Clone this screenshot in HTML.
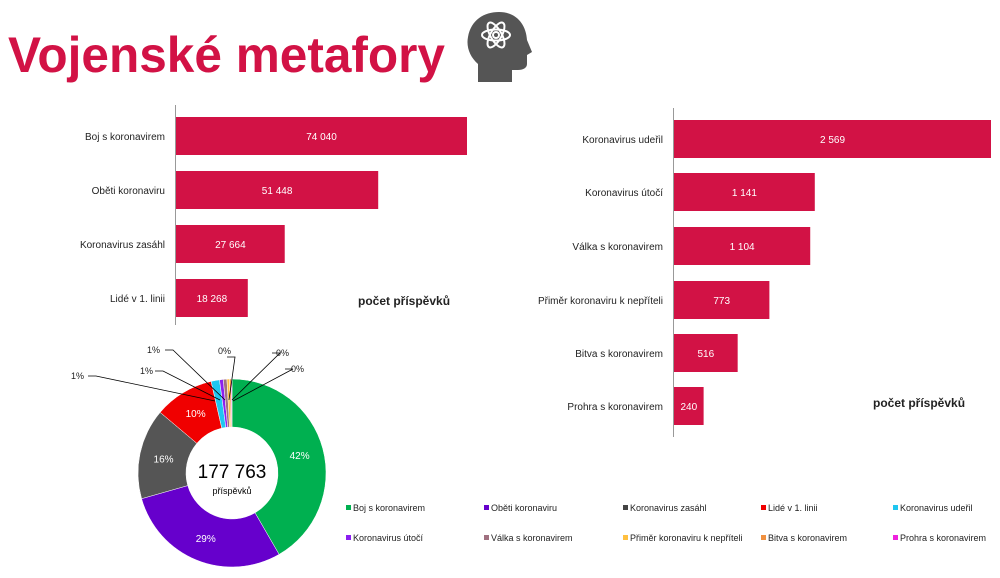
<!DOCTYPE html>
<html><head><meta charset="utf-8"><style>
body{margin:0;background:#fff;width:1000px;height:578px;overflow:hidden;font-family:"Liberation Sans",sans-serif}
svg{display:block}
</style></head><body>
<svg id="s" width="1000" height="578" xmlns="http://www.w3.org/2000/svg" font-family="Liberation Sans, sans-serif">
<text x="8" y="72" font-size="50" font-weight="bold" fill="#d21245" textLength="437" lengthAdjust="spacingAndGlyphs">Vojenské metafory</text>
<g fill="#555">
<path d="M478 82 L478 64 C470 57 466 47 468 37 C471 20 484 12 499 12 C516 12 526 24 527 40 L532 52 L527 55 L527 64 C527 68 523 70 518 70 L512 70 L512 82 Z"/>
</g>
<g fill="none" stroke="#fff" stroke-width="2">
<ellipse cx="496" cy="35" rx="14" ry="5.5"/>
<ellipse cx="496" cy="35" rx="14" ry="5.5" transform="rotate(60 496 35)"/>
<ellipse cx="496" cy="35" rx="14" ry="5.5" transform="rotate(-60 496 35)"/>
<circle cx="496" cy="35" r="3"/>
</g>
<g id="g"></g>
<text x="358" y="305" font-size="12" font-weight="bold" fill="#222">počet příspěvků</text>
<text x="873" y="407" font-size="12" font-weight="bold" fill="#222">počet příspěvků</text>
<text x="232" y="478" font-size="19" text-anchor="middle" fill="#000">177 763</text>
<text x="232" y="494" font-size="9" text-anchor="middle" fill="#000">příspěvků</text>
</svg>
<script>
const g=document.getElementById('g');let h='';
const red='#d21245';
const L=[["Boj s koronavirem",74040,"74 040",117],["Oběti koronaviru",51448,"51 448",171],["Koronavirus zasáhl",27664,"27 664",225],["Lidé v 1. linii",18268,"18 268",279]];
h+=`<line x1="175.5" y1="105" x2="175.5" y2="325" stroke="#999"/>`;
for(const[n,v,t,y]of L){const w=v*291/74040;h+=`<rect x="176" y="${y}" width="${w}" height="38" fill="${red}"/><text x="${176+w/2}" y="${y+23}" font-size="10" fill="#fff" text-anchor="middle">${t}</text><text x="165" y="${y+23}" font-size="10" fill="#222" text-anchor="end">${n}</text>`;}
const R=[["Koronavirus udeřil",2569,"2 569",120],["Koronavirus útočí",1141,"1 141",173],["Válka s koronavirem",1104,"1 104",227],["Přiměr koronaviru k nepříteli",773,"773",281],["Bitva s koronavirem",516,"516",334],["Prohra s koronavirem",240,"240",387]];
h+=`<line x1="673.5" y1="108" x2="673.5" y2="437" stroke="#999"/>`;
for(const[n,v,t,y]of R){const w=v*317/2569;h+=`<rect x="674" y="${y}" width="${w}" height="38" fill="${red}"/><text x="${674+w/2}" y="${y+23}" font-size="10" fill="#fff" text-anchor="middle">${t}</text><text x="663" y="${y+23}" font-size="10" fill="#222" text-anchor="end">${n}</text>`;}
const D=[[74040,'#00b050','42%'],[51448,'#6600cc','29%'],[27664,'#555555','16%'],[18268,'#f00000','10%'],[2569,'#1fc6f0',''],[1141,'#8b1ff0',''],[1104,'#a07080',''],[773,'#ffc040',''],[516,'#f09040',''],[240,'#ee22dd','']];
const cx=232,cy=473,ro=94,ri=46,T=177763;let a=0;
function p(r,an){return [cx+r*Math.sin(an),cy-r*Math.cos(an)];}
for(const[v,c,l]of D){const b=a+v/T*2*Math.PI;const lg=b-a>Math.PI?1:0;const[x1,y1]=p(ro,a),[x2,y2]=p(ro,b),[x3,y3]=p(ri,b),[x4,y4]=p(ri,a);
h+=`<path d="M${x1} ${y1}A${ro} ${ro} 0 ${lg} 1 ${x2} ${y2}L${x3} ${y3}A${ri} ${ri} 0 ${lg} 0 ${x4} ${y4}Z" fill="${c}" stroke="#fff" stroke-width="0.5"/>`;
if(l){const m=(a+b)/2;const[tx,ty]=p(70,m);h+=`<text x="${tx}" y="${ty+4}" font-size="10" fill="#fff" text-anchor="middle">${l}</text>`;}a=b;}
const lines=[[88,376,215,401,'1%',71,379],[155,371,220,400,'1%',140,374],[165,350,225,400,'1%',147,353],[227,357,229,400,'0%',218,354],[272,353,232,400,'0%',276,356],[285,369,233,401,'0%',291,372]];
for(const[x1,y1,x2,y2,t,tx,ty]of lines){h+=`<polyline points="${x1},${y1} ${x1+8},${y1} ${x2},${y2}" fill="none" stroke="#000" stroke-width="0.8"/><text x="${tx}" y="${ty}" font-size="9" fill="#222">${t}</text>`;}
const LG=[["Boj s koronavirem",'#00b050'],["Oběti koronaviru",'#6600cc'],["Koronavirus zasáhl",'#444'],["Lidé v 1. linii",'#f00000'],["Koronavirus udeřil",'#1fc6f0'],["Koronavirus útočí",'#8b1ff0'],["Válka s koronavirem",'#a07080'],["Přiměr koronaviru k nepříteli",'#ffc040'],["Bitva s koronavirem",'#f09040'],["Prohra s koronavirem",'#ee22dd']];
const xs=[346,484,623,761,893];
LG.forEach(([n,c],i)=>{const x=xs[i%5],y=i<5?511:541;h+=`<rect x="${x}" y="${y-6}" width="5" height="5" fill="${c}"/><text x="${x+7}" y="${y}" font-size="9" fill="#222">${n}</text>`;});
g.innerHTML=h;
</script>
</body></html>
